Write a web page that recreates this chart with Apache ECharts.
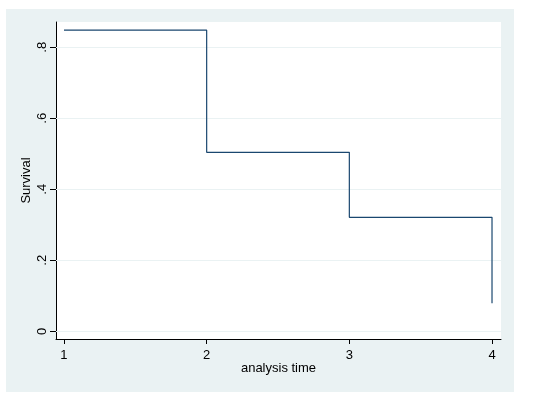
<!DOCTYPE html>
<html>
<head>
<meta charset="utf-8">
<script src="https://cdn.jsdelivr.net/npm/echarts@6/dist/echarts.min.js"></script>
<style>
  html, body { margin: 0; padding: 0; background: #ffffff; }
  #bg { position: absolute; left: 6px; top: 9px; width: 508px; height: 383px; background: #EAF2F3; }
  #chart { position: absolute; left: 0; top: 0; width: 543px; height: 402px; }
</style>
</head>
<body>
<div id="bg"></div>
<div id="chart"></div>
<script>
// Data
const times = [1, 2, 3, 4];
const survival = [0.848, 0.504, 0.321, 0.079];
const xTicks = [1, 2, 3, 4];
const yTicks = [0, 0.2, 0.4, 0.6, 0.8];
const yTickLabels = ['0', '.2', '.4', '.6', '.8'];

const points = times.map((t, i) => [t, survival[i]]);
const font = '"Liberation Sans", Arial, sans-serif';

const chart = echarts.init(document.getElementById('chart'), null, { renderer: 'canvas' });
chart.setOption({
  backgroundColor: 'transparent',
  animation: false,
  grid: {
    left: 56, top: 22, right: 42, bottom: 63,
    show: true, backgroundColor: '#ffffff', borderWidth: 0
  },
  xAxis: {
    type: 'value',
    min: 0.944, max: 4.063,
    name: 'analysis time',
    nameLocation: 'middle',
    nameGap: 23,
    nameMoveOverlap: false,
    nameTextStyle: { fontFamily: font, fontSize: 13, color: '#000' },
    axisLine: { show: true, onZero: false, lineStyle: { color: '#000', width: 1 } },
    axisTick: { show: true, length: 5, customValues: xTicks, lineStyle: { color: '#000' } },
    axisLabel: { customValues: xTicks, margin: 10, fontFamily: font, fontSize: 13, color: '#000',
      formatter: v => String(v) },
    splitLine: { show: false }
  },
  yAxis: {
    type: 'value',
    min: -0.0217, max: 0.871,
    name: 'Survival',
    nameLocation: 'middle',
    nameGap: 23,
    nameRotate: 90,
    nameMoveOverlap: false,
    nameTextStyle: { fontFamily: font, fontSize: 13, color: '#000' },
    axisLine: { show: true, onZero: false, lineStyle: { color: '#000', width: 1 } },
    axisTick: { show: true, length: 6, customValues: yTicks, lineStyle: { color: '#000' } },
    axisLabel: { customValues: yTicks, rotate: 90, margin: 7, fontFamily: font, fontSize: 13, color: '#000',
      formatter: v => {
        const i = yTicks.findIndex(t => Math.abs(t - v) < 1e-9);
        return i >= 0 ? yTickLabels[i] : '';
      } },
    splitLine: { show: false }
  },
  series: [
    {
      type: 'line',
      data: points,
      step: 'end',
      symbol: 'none',
      lineStyle: { color: '#1a476f', width: 1.2 },
      markLine: {
        silent: true,
        symbol: 'none',
        label: { show: false },
        z: 1,
        lineStyle: { color: '#EAF2F3', width: 1, type: 'solid' },
        data: yTicks.map(v => ({ yAxis: v }))
      }
    }
  ]
});
</script>
</body>
</html>
